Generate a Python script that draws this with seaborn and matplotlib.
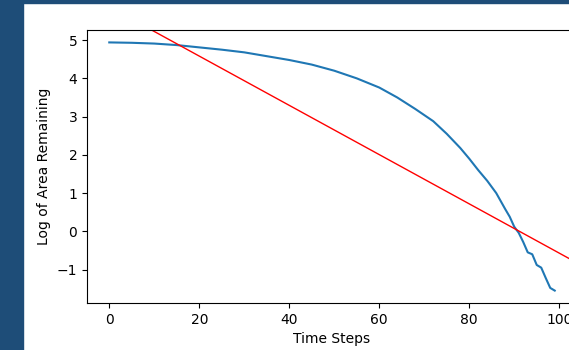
import numpy as np
import pandas as pd
import seaborn as sns
import matplotlib.pyplot as plt
from matplotlib.patches import Rectangle

# values
time_steps = [0, 5, 10, 15, 20, 25, 30, 35, 40, 45, 50, 55, 60, 64, 68, 72, 75,
              78, 80, 82, 84, 86, 88, 89, 90, 91, 92, 93, 94, 95, 96, 97, 98, 99]
log_area = [4.94, 4.93, 4.91, 4.87, 4.81, 4.75, 4.68, 4.58, 4.48, 4.36, 4.20,
            4.00, 3.76, 3.50, 3.20, 2.88, 2.55, 2.18, 1.90, 1.60, 1.32, 1.00,
            0.58, 0.38, 0.12, -0.04, -0.28, -0.55, -0.60, -0.88, -0.95, -1.22,
            -1.48, -1.55]

# red reference line
fit_intercept = 5.87
fit_slope = -0.0644

df = pd.DataFrame({'Time Steps': time_steps, 'Log of Area Remaining': log_area})

fig = plt.figure(figsize=(5.69, 3.50), dpi=100, facecolor='white')

# screenshot frame (dark blue strip left and top)
frame = '#1e4d78'
fig.patches.append(Rectangle((0, 0), 23 / 569, 1, transform=fig.transFigure,
                             color=frame, zorder=-1))
fig.patches.append(Rectangle((0, 1 - 3 / 350), 1, 3 / 350, transform=fig.transFigure,
                             color=frame, zorder=-1))

ax = fig.add_axes([87 / 569, 47 / 350, 490 / 569, 273 / 350])
sns.lineplot(data=df, x='Time Steps', y='Log of Area Remaining', ax=ax,
             color='#1f77b4', linewidth=1.5)
ax.autoscale(False)
ax.axline((0, fit_intercept), slope=fit_slope, color='red', linewidth=1)

ax.set_xlabel('Time Steps')
ax.set_ylabel('Log of Area Remaining')

fig.savefig('out.png', dpi=100, facecolor=fig.get_facecolor())
